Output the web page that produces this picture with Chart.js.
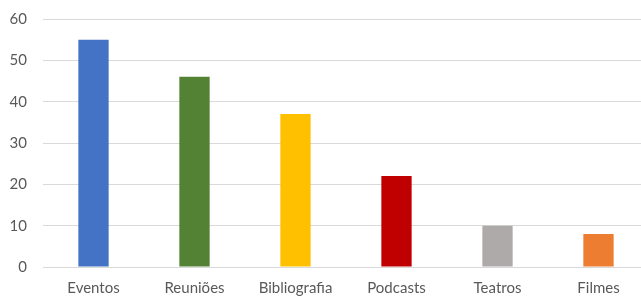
<!DOCTYPE html>
<html>
<head>
<meta charset="utf-8">
<script src="https://cdn.jsdelivr.net/npm/chart.js@4"></script>
<style>
  html, body { margin: 0; padding: 0; background: #fff; overflow: hidden; }
  #wrap { width: 649px; height: 296px; }
</style>
</head>
<body>
<div id="wrap"><canvas id="chart"></canvas></div>
<script>
const categories = ['Eventos', 'Reuniões', 'Bibliografia', 'Podcasts', 'Teatros', 'Filmes'];
const values = [55, 46, 37, 22, 10, 8];
const barColors = ['#4472C4', '#548235', '#FFC000', '#C00000', '#AEAAAA', '#ED7D31'];
const yTicks = [0, 10, 20, 30, 40, 50, 60];

const ctx = document.getElementById('chart').getContext('2d');
new Chart(ctx, {
  type: 'bar',
  data: {
    labels: categories,
    datasets: [{
      data: values,
      backgroundColor: barColors,
      borderWidth: 0,
      barPercentage: 0.3,
      categoryPercentage: 1
    }]
  },
  options: {
    responsive: true,
    maintainAspectRatio: false,
    animation: false,
    layout: { padding: { top: 19, right: 0, bottom: 0, left: 0 } },
    plugins: {
      legend: { display: false },
      tooltip: { enabled: false }
    },
    scales: {
      x: {
        grid: { display: false },
        border: { display: false },
        ticks: {
          color: '#595959',
          font: { family: 'Lato', size: 15 },
          padding: 4,
          maxRotation: 0
        },
        afterFit: (scale) => { scale.height = 29; }
      },
      y: {
        min: 0,
        max: 60,
        afterBuildTicks: (scale) => { scale.ticks = yTicks.map(v => ({ value: v })); },
        // tick marks invisible, only used to push the labels left
        grid: { color: '#D9D9D9', lineWidth: 1, drawTicks: true, tickLength: 13, tickColor: 'rgba(0,0,0,0)' },
        border: { display: false },
        ticks: {
          color: '#595959',
          font: { family: 'Lato', size: 15 },
          padding: 3
        },
        afterFit: (scale) => { scale.width = 43; }
      }
    }
  }
});
</script>
</body>
</html>
